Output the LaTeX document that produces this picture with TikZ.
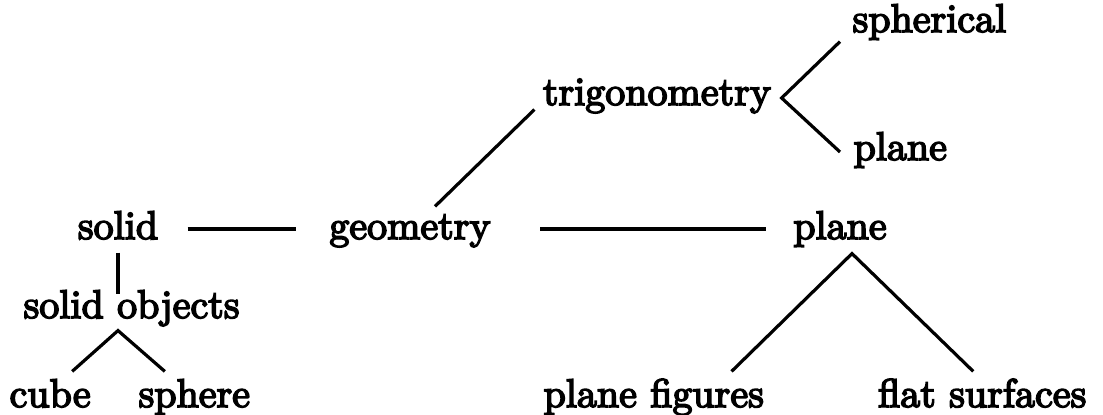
\documentclass[tikz,border=0pt]{standalone}
\usepackage{fontspec}
\setmainfont{Latin Modern Roman}[FakeBold=4]

\begin{document}
\begin{tikzpicture}[x=0.25pt,y=-0.25pt,line width=0.8pt]
	% --- Frame: units are pixels of the 1103 x 415 sheet, y grows downwards ---
	\useasboundingbox (0,0) rectangle (1103,415);
	\tikzset{lbl/.style={inner sep=0pt, text height=7pt, text depth=2pt}}

	% --- Labels (placed on their baselines) ---
	\node[lbl,anchor=base west] (sph)    at (851,32)   {spherical};
	\node[lbl,anchor=base]      (trig)   at (657,105)  {trigonometry};
	\node[lbl,anchor=base west] (tplane) at (852,160)  {plane};
	\node[lbl,anchor=base]      (solid)  at (118,239)  {solid};
	\node[lbl,anchor=base]      (geom)   at (410,239)  {geometry};
	\node[lbl,anchor=base]      (plane)  at (840,239)  {plane};
	\node[lbl,anchor=base west] (objs)   at (22,318)   {solid objects};
	\node[lbl,anchor=base west] (cube)   at (8,407)    {cube};
	\node[lbl,anchor=base west] (sphere) at (137,407)  {sphere};
	\node[lbl,anchor=base west] (pfig)   at (542,407)  {plane figures};
	\node[lbl,anchor=base east] (flat)   at (1088,407) {flat surfaces};

	% --- Fork points ---
	\path (trig.east) ++(9,3) coordinate (tfork);
	\path (solid.south |- objs.south) ++(0,3) coordinate (ofork);
	\path (plane.south) ++(12,5) coordinate (pfork);

	% --- Connectors ---
	\draw[shorten <=7pt,shorten >=8pt] (solid) -- (geom);
	\draw[shorten <=12pt,shorten >=6.5pt] (geom) -- (plane);
	\draw ([shift={(25,-3)}]geom.north) -- ([shift={(-7,-5)}]trig.south west);
	\draw ([shift={(-11,0)}]sph.south west) -- (tfork) -- ([shift={(-12,2)}]tplane.west);
	\draw[shorten <=1pt,shorten >=-1.5pt] (solid.south) -- (solid.south |- objs.north);
	\draw ([shift={(22,-6)}]cube.north) -- (ofork) -- ([shift={(-29.5,-6)}]sphere.north);
	\draw ([shift={(-34,-6)}]pfig.north east) -- (pfork) -- ([shift={(-9,-6)}]flat.north);
\end{tikzpicture}
\end{document}
